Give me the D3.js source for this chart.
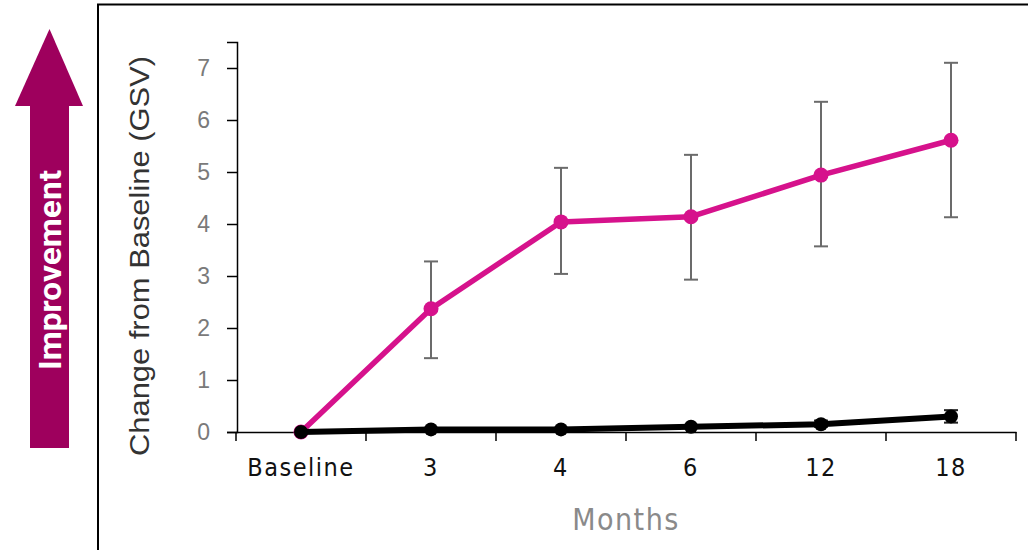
<!DOCTYPE html>
<html><head><meta charset="utf-8">
<script src="https://cdn.jsdelivr.net/npm/d3@7"></script>
<style>
html,body{margin:0;padding:0;background:#fff;}
svg{display:block;}
</style></head>
<body>
<script>
const categories = ["Baseline","3","4","6","12","18"];
const treatedMean = [0, 2.37, 4.04, 4.14, 4.94, 5.61];
const treatedLow  = [null, 1.42, 3.04, 2.93, 3.57, 4.13];
const treatedHigh = [null, 3.28, 5.08, 5.33, 6.35, 7.10];
const controlMean = [0, 0.05, 0.05, 0.10, 0.15, 0.30];
const controlLow  = [null, null, null, null, 0.10, 0.18];
const controlHigh = [null, null, null, null, 0.22, 0.42];
const yTicks = [0,1,2,3,4,5,6,7];

const W = 1028, H = 550;
const svg = d3.select("body").append("svg").attr("width", W).attr("height", H);

// frame
svg.append("rect").attr("x", 98).attr("y", 4.5).attr("width", 1040).attr("height", 560)
  .attr("fill", "none").attr("stroke", "#000").attr("stroke-width", 2);

// arrow
const ac = "#9E005D";
svg.append("rect").attr("x", 30).attr("y", 104).attr("width", 39).attr("height", 344).attr("fill", ac);
svg.append("path").attr("d", "M15,106 L49.5,29 L83,106 Z").attr("fill", ac);
svg.append("text").attr("transform", "translate(61,270) rotate(-90)")
  .attr("text-anchor", "middle").attr("fill", "#fff")
  .attr("font-family", "Roboto, 'Liberation Sans', sans-serif").attr("font-weight", "bold")
  .attr("font-size", 31).attr("textLength", 200).attr("lengthAdjust", "spacingAndGlyphs")
  .text("Improvement");

const x = d3.scaleBand().domain(categories).range([236, 1016]);
const y = d3.scaleLinear().domain([0, 7.5]).range([432, 42]);
const cx = d => x(d) + x.bandwidth()/2;

const condensed = "'DejaVu Sans Condensed', 'Liberation Sans Narrow', sans-serif";

// y axis
const ya = svg.append("g").attr("transform", "translate(237,0)")
  .call(d3.axisLeft(y).tickValues(yTicks).tickSize(10).tickPadding(17).tickFormat(d3.format("d")));
ya.select(".domain").attr("stroke", "#000").attr("stroke-width", 1.5);
ya.selectAll(".tick line").attr("stroke", "#000").attr("stroke-width", 1.5);
ya.selectAll("text").attr("fill", "#7a7a7a").attr("font-size", 23)
  .attr("font-family", "'Liberation Sans', Arial, sans-serif");

// x axis
const xa = svg.append("g").attr("transform", "translate(0,432)")
  .call(d3.axisBottom(x).tickSize(0).tickPadding(26));
xa.select(".domain").attr("stroke", "#000").attr("stroke-width", 1.5);
xa.selectAll("text").attr("fill", "#111").attr("font-size", 25)
  .attr("letter-spacing", 1.5)
  .attr("font-family", condensed).attr("font-stretch", "condensed");
// boundary ticks
const bounds = categories.map(c => x(c)).concat([x.range()[1]]);
xa.selectAll(".btick").data(bounds).enter().append("line")
  .attr("x1", d => d).attr("x2", d => d).attr("y1", 0).attr("y2", 9)
  .attr("stroke", "#000").attr("stroke-width", 1.5);

// axis titles
svg.append("text").attr("transform", "translate(149,256) rotate(-90)")
  .attr("text-anchor", "middle").attr("fill", "#333").attr("font-size", 27)
  .attr("textLength", 400).attr("lengthAdjust", "spacingAndGlyphs")
  .attr("font-family", "'Liberation Sans', Arial, sans-serif").text("Change from Baseline (GSV)");
svg.append("text").attr("x", 626).attr("y", 530).attr("text-anchor", "middle")
  .attr("fill", "#8a8a8a").attr("font-size", 30).attr("letter-spacing", 1.5)
  .attr("font-family", condensed).attr("font-stretch", "condensed").text("Months");

function errBars(lo, hi, color) {
  const g = svg.append("g");
  categories.forEach((c, i) => {
    if (lo[i] == null) return;
    const px = cx(c);
    g.append("line").attr("x1", px).attr("x2", px).attr("y1", y(lo[i])).attr("y2", y(hi[i]))
      .attr("stroke", color).attr("stroke-width", 2);
    [lo[i], hi[i]].forEach(v => g.append("line").attr("x1", px-7).attr("x2", px+7)
      .attr("y1", y(v)).attr("y2", y(v)).attr("stroke", color).attr("stroke-width", 2));
  });
}
function series(vals, color, lw, r) {
  const line = d3.line().x((d, i) => cx(categories[i])).y(d => y(d));
  svg.append("path").datum(vals).attr("d", line).attr("fill", "none")
    .attr("stroke", color).attr("stroke-width", lw).attr("stroke-linejoin", "round");
  svg.append("g").selectAll("circle").data(vals).enter().append("circle")
    .attr("cx", (d, i) => cx(categories[i])).attr("cy", d => y(d)).attr("r", r).attr("fill", color);
}

errBars(treatedLow, treatedHigh, "#6b6b6b");
series(treatedMean, "#D6128C", 5.5, 7.5);
errBars(controlLow, controlHigh, "#222");
series(controlMean, "#000", 6, 7);
</script>
</body></html>
